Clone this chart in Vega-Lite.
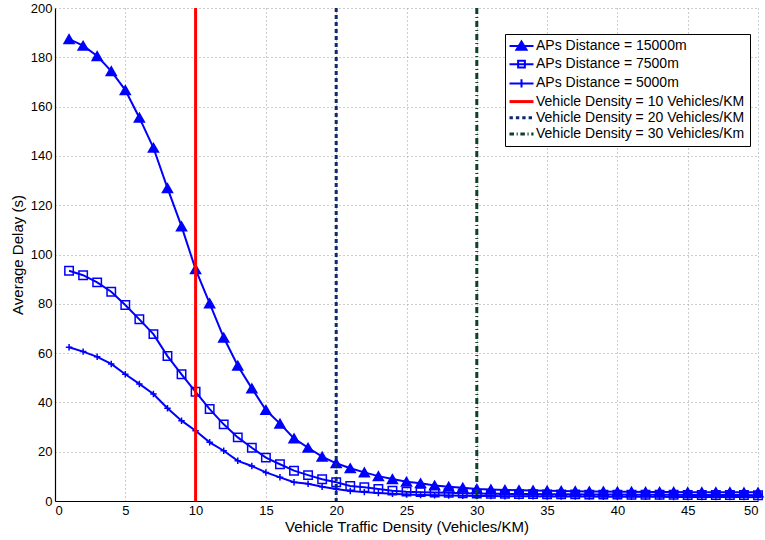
{
  "$schema": "https://vega.github.io/schema/vega-lite/v6.json",
  "autosize": {"type": "none"},
  "width": 703,
  "height": 493,
  "padding": {"left": 55, "top": 8, "right": 7, "bottom": 39},
  "background": "white",
  "config": {
    "font": "Liberation Sans",
    "view": {"stroke": null},
    "axis": {
      "domainColor": "black", "tickColor": "black", "labelColor": "black", "titleColor": "black",
      "labelFontSize": 13, "titleFontSize": 15, "titleFontWeight": "normal",
      "gridColor": "#9a9a9a", "gridDash": [1, 3], "gridWidth": 1, "ticks": false, "domainWidth": 1.2
    }
  },
  "datasets": {
    "curves": [
      {"s": "APs Distance = 15000m", "x": 1, "y": 187.4}, {"s": "APs Distance = 15000m", "x": 2, "y": 184.7}, {"s": "APs Distance = 15000m", "x": 3, "y": 180.5}, {"s": "APs Distance = 15000m", "x": 4, "y": 174.4}, {"s": "APs Distance = 15000m", "x": 5, "y": 166.7},
      {"s": "APs Distance = 15000m", "x": 6, "y": 155.5}, {"s": "APs Distance = 15000m", "x": 7, "y": 143.3}, {"s": "APs Distance = 15000m", "x": 8, "y": 126.9}, {"s": "APs Distance = 15000m", "x": 9, "y": 111.4}, {"s": "APs Distance = 15000m", "x": 10, "y": 94.0},
      {"s": "APs Distance = 15000m", "x": 11, "y": 80.2}, {"s": "APs Distance = 15000m", "x": 12, "y": 66.3}, {"s": "APs Distance = 15000m", "x": 13, "y": 54.9}, {"s": "APs Distance = 15000m", "x": 14, "y": 45.7}, {"s": "APs Distance = 15000m", "x": 15, "y": 36.9},
      {"s": "APs Distance = 15000m", "x": 16, "y": 31.4}, {"s": "APs Distance = 15000m", "x": 17, "y": 25.4}, {"s": "APs Distance = 15000m", "x": 18, "y": 21.6}, {"s": "APs Distance = 15000m", "x": 19, "y": 18.0}, {"s": "APs Distance = 15000m", "x": 20, "y": 15.3},
      {"s": "APs Distance = 15000m", "x": 21, "y": 13.3}, {"s": "APs Distance = 15000m", "x": 22, "y": 11.6}, {"s": "APs Distance = 15000m", "x": 23, "y": 10.1}, {"s": "APs Distance = 15000m", "x": 24, "y": 8.9}, {"s": "APs Distance = 15000m", "x": 25, "y": 7.8},
      {"s": "APs Distance = 15000m", "x": 26, "y": 7.2}, {"s": "APs Distance = 15000m", "x": 27, "y": 6.3}, {"s": "APs Distance = 15000m", "x": 28, "y": 5.8}, {"s": "APs Distance = 15000m", "x": 29, "y": 5.4}, {"s": "APs Distance = 15000m", "x": 30, "y": 4.9},
      {"s": "APs Distance = 15000m", "x": 31, "y": 4.7}, {"s": "APs Distance = 15000m", "x": 32, "y": 4.5}, {"s": "APs Distance = 15000m", "x": 33, "y": 4.4}, {"s": "APs Distance = 15000m", "x": 34, "y": 4.3}, {"s": "APs Distance = 15000m", "x": 35, "y": 4.2},
      {"s": "APs Distance = 15000m", "x": 36, "y": 4.1}, {"s": "APs Distance = 15000m", "x": 37, "y": 4.0}, {"s": "APs Distance = 15000m", "x": 38, "y": 3.9}, {"s": "APs Distance = 15000m", "x": 39, "y": 3.9}, {"s": "APs Distance = 15000m", "x": 40, "y": 3.8},
      {"s": "APs Distance = 15000m", "x": 41, "y": 3.8}, {"s": "APs Distance = 15000m", "x": 42, "y": 3.7}, {"s": "APs Distance = 15000m", "x": 43, "y": 3.7}, {"s": "APs Distance = 15000m", "x": 44, "y": 3.7}, {"s": "APs Distance = 15000m", "x": 45, "y": 3.6},
      {"s": "APs Distance = 15000m", "x": 46, "y": 3.6}, {"s": "APs Distance = 15000m", "x": 47, "y": 3.6}, {"s": "APs Distance = 15000m", "x": 48, "y": 3.6}, {"s": "APs Distance = 15000m", "x": 49, "y": 3.5}, {"s": "APs Distance = 15000m", "x": 50, "y": 3.5},
      {"s": "APs Distance = 7500m", "x": 1, "y": 93.4}, {"s": "APs Distance = 7500m", "x": 2, "y": 91.6}, {"s": "APs Distance = 7500m", "x": 3, "y": 88.7}, {"s": "APs Distance = 7500m", "x": 4, "y": 84.9}, {"s": "APs Distance = 7500m", "x": 5, "y": 79.5},
      {"s": "APs Distance = 7500m", "x": 6, "y": 73.7}, {"s": "APs Distance = 7500m", "x": 7, "y": 67.7}, {"s": "APs Distance = 7500m", "x": 8, "y": 58.8}, {"s": "APs Distance = 7500m", "x": 9, "y": 51.4}, {"s": "APs Distance = 7500m", "x": 10, "y": 44.3},
      {"s": "APs Distance = 7500m", "x": 11, "y": 37.3}, {"s": "APs Distance = 7500m", "x": 12, "y": 31.1}, {"s": "APs Distance = 7500m", "x": 13, "y": 25.8}, {"s": "APs Distance = 7500m", "x": 14, "y": 21.6}, {"s": "APs Distance = 7500m", "x": 15, "y": 17.6},
      {"s": "APs Distance = 7500m", "x": 16, "y": 14.9}, {"s": "APs Distance = 7500m", "x": 17, "y": 12.3}, {"s": "APs Distance = 7500m", "x": 18, "y": 10.5}, {"s": "APs Distance = 7500m", "x": 19, "y": 8.8}, {"s": "APs Distance = 7500m", "x": 20, "y": 7.6},
      {"s": "APs Distance = 7500m", "x": 21, "y": 6.1}, {"s": "APs Distance = 7500m", "x": 22, "y": 5.6}, {"s": "APs Distance = 7500m", "x": 23, "y": 4.9}, {"s": "APs Distance = 7500m", "x": 24, "y": 4.2}, {"s": "APs Distance = 7500m", "x": 25, "y": 3.8},
      {"s": "APs Distance = 7500m", "x": 26, "y": 3.6}, {"s": "APs Distance = 7500m", "x": 27, "y": 3.4}, {"s": "APs Distance = 7500m", "x": 28, "y": 3.3}, {"s": "APs Distance = 7500m", "x": 29, "y": 3.1}, {"s": "APs Distance = 7500m", "x": 30, "y": 3.0},
      {"s": "APs Distance = 7500m", "x": 31, "y": 2.9}, {"s": "APs Distance = 7500m", "x": 32, "y": 2.9}, {"s": "APs Distance = 7500m", "x": 33, "y": 2.8}, {"s": "APs Distance = 7500m", "x": 34, "y": 2.8}, {"s": "APs Distance = 7500m", "x": 35, "y": 2.7},
      {"s": "APs Distance = 7500m", "x": 36, "y": 2.7}, {"s": "APs Distance = 7500m", "x": 37, "y": 2.7}, {"s": "APs Distance = 7500m", "x": 38, "y": 2.6}, {"s": "APs Distance = 7500m", "x": 39, "y": 2.6}, {"s": "APs Distance = 7500m", "x": 40, "y": 2.6},
      {"s": "APs Distance = 7500m", "x": 41, "y": 2.5}, {"s": "APs Distance = 7500m", "x": 42, "y": 2.5}, {"s": "APs Distance = 7500m", "x": 43, "y": 2.5}, {"s": "APs Distance = 7500m", "x": 44, "y": 2.5}, {"s": "APs Distance = 7500m", "x": 45, "y": 2.4},
      {"s": "APs Distance = 7500m", "x": 46, "y": 2.4}, {"s": "APs Distance = 7500m", "x": 47, "y": 2.4}, {"s": "APs Distance = 7500m", "x": 48, "y": 2.4}, {"s": "APs Distance = 7500m", "x": 49, "y": 2.4}, {"s": "APs Distance = 7500m", "x": 50, "y": 2.3},
      {"s": "APs Distance = 5000m", "x": 1, "y": 62.4}, {"s": "APs Distance = 5000m", "x": 2, "y": 60.6}, {"s": "APs Distance = 5000m", "x": 3, "y": 58.5}, {"s": "APs Distance = 5000m", "x": 4, "y": 55.6}, {"s": "APs Distance = 5000m", "x": 5, "y": 51.4},
      {"s": "APs Distance = 5000m", "x": 6, "y": 47.5}, {"s": "APs Distance = 5000m", "x": 7, "y": 43.4}, {"s": "APs Distance = 5000m", "x": 8, "y": 37.6}, {"s": "APs Distance = 5000m", "x": 9, "y": 32.6}, {"s": "APs Distance = 5000m", "x": 10, "y": 28.5},
      {"s": "APs Distance = 5000m", "x": 11, "y": 23.8}, {"s": "APs Distance = 5000m", "x": 12, "y": 20.4}, {"s": "APs Distance = 5000m", "x": 13, "y": 16.3}, {"s": "APs Distance = 5000m", "x": 14, "y": 14.2}, {"s": "APs Distance = 5000m", "x": 15, "y": 11.6},
      {"s": "APs Distance = 5000m", "x": 16, "y": 9.6}, {"s": "APs Distance = 5000m", "x": 17, "y": 7.6}, {"s": "APs Distance = 5000m", "x": 18, "y": 7.0}, {"s": "APs Distance = 5000m", "x": 19, "y": 5.8}, {"s": "APs Distance = 5000m", "x": 20, "y": 4.9},
      {"s": "APs Distance = 5000m", "x": 21, "y": 4.1}, {"s": "APs Distance = 5000m", "x": 22, "y": 3.6}, {"s": "APs Distance = 5000m", "x": 23, "y": 3.2}, {"s": "APs Distance = 5000m", "x": 24, "y": 2.9}, {"s": "APs Distance = 5000m", "x": 25, "y": 2.6},
      {"s": "APs Distance = 5000m", "x": 26, "y": 2.4}, {"s": "APs Distance = 5000m", "x": 27, "y": 2.3}, {"s": "APs Distance = 5000m", "x": 28, "y": 2.2}, {"s": "APs Distance = 5000m", "x": 29, "y": 2.1}, {"s": "APs Distance = 5000m", "x": 30, "y": 2.0},
      {"s": "APs Distance = 5000m", "x": 31, "y": 2.0}, {"s": "APs Distance = 5000m", "x": 32, "y": 1.9}, {"s": "APs Distance = 5000m", "x": 33, "y": 1.9}, {"s": "APs Distance = 5000m", "x": 34, "y": 1.9}, {"s": "APs Distance = 5000m", "x": 35, "y": 1.8},
      {"s": "APs Distance = 5000m", "x": 36, "y": 1.8}, {"s": "APs Distance = 5000m", "x": 37, "y": 1.8}, {"s": "APs Distance = 5000m", "x": 38, "y": 1.8}, {"s": "APs Distance = 5000m", "x": 39, "y": 1.7}, {"s": "APs Distance = 5000m", "x": 40, "y": 1.7},
      {"s": "APs Distance = 5000m", "x": 41, "y": 1.7}, {"s": "APs Distance = 5000m", "x": 42, "y": 1.7}, {"s": "APs Distance = 5000m", "x": 43, "y": 1.7}, {"s": "APs Distance = 5000m", "x": 44, "y": 1.6}, {"s": "APs Distance = 5000m", "x": 45, "y": 1.6},
      {"s": "APs Distance = 5000m", "x": 46, "y": 1.6}, {"s": "APs Distance = 5000m", "x": 47, "y": 1.6}, {"s": "APs Distance = 5000m", "x": 48, "y": 1.6}, {"s": "APs Distance = 5000m", "x": 49, "y": 1.6}, {"s": "APs Distance = 5000m", "x": 50, "y": 1.5}
    ],
    "rules": [
      {"s": "Vehicle Density = 10 Vehicles/KM", "x": 10},
      {"s": "Vehicle Density = 20 Vehicles/KM", "x": 20},
      {"s": "Vehicle Density = 30 Vehicles/Km", "x": 30}
    ]
  },
  "encoding": {
    "x": {"field": "x", "type": "quantitative",
      "scale": {"domain": [0, 50], "nice": false, "zero": false},
      "axis": {"values": [0,5,10,15,20,25,30,35,40,45,50], "title": "Vehicle Traffic Density (Vehicles/KM)", "labelPadding": 3, "titlePadding": 2}},
    "color": {"field": "s", "type": "nominal",
      "scale": {"domain": ["APs Distance = 15000m", "APs Distance = 7500m", "APs Distance = 5000m", "Vehicle Density = 10 Vehicles/KM", "Vehicle Density = 20 Vehicles/KM", "Vehicle Density = 30 Vehicles/Km"],
        "range": ["#0000ff", "#0000ff", "#0000ff", "#ff0000", "#0d2a6e", "#0b4228"]},
      "legend": {
        "title": null, "orient": "none", "legendX": 450, "legendY": 26,
        "strokeColor": "black", "fillColor": "white", "padding": 5,
        "labelFontSize": 14, "labelColor": "black", "labelLimit": 400, "labelOffset": 12,
        "symbolSize": 225, "rowPadding": 2.2,
        "encode": {
          "symbols": {"update": {
            "shape": {"signal": "datum.label == 'APs Distance = 15000m' ? 'M-1,0H2.2M0.6,-0.6L1.27,0.5L-0.07,0.5Z' : datum.label == 'APs Distance = 7500m' ? 'M-1,0H2.2M0.15,-0.45H1.05V0.45H0.15Z' : datum.label == 'APs Distance = 5000m' ? 'M-1,0H2.2M0.6,-0.55V0.55' : datum.label == 'Vehicle Density = 20 Vehicles/KM' ? 'M-1,0H-0.55M-0.15,0H0.3M0.7,0H1.15M1.55,0H2.0' : datum.label == 'Vehicle Density = 30 Vehicles/Km' ? 'M-1,0H-0.4M-0.05,0H0.1M0.45,0H1.05M1.4,0H1.55M1.9,0H2.2' : 'M-1,0H2.2'"},
            "fill": {"signal": "datum.label == 'APs Distance = 15000m' ? '#0000ff' : 'transparent'"},
            "stroke": {"signal": "datum.label == 'Vehicle Density = 10 Vehicles/KM' ? '#ff0000' : datum.label == 'Vehicle Density = 20 Vehicles/KM' ? '#0d2a6e' : datum.label == 'Vehicle Density = 30 Vehicles/Km' ? '#0b4228' : '#0000ff'"},
            "strokeWidth": {"signal": "datum.label == 'Vehicle Density = 10 Vehicles/KM' || datum.label == 'Vehicle Density = 20 Vehicles/KM' || datum.label == 'Vehicle Density = 30 Vehicles/Km' ? 3 : 2"}
          }}
        }
      }}
  },
  "layer": [
    {
      "data": {"name": "curves"},
      "mark": {"type": "line", "strokeWidth": 2},
      "encoding": {
        "y": {"field": "y", "type": "quantitative",
          "scale": {"domain": [0, 200], "nice": false},
          "axis": {"values": [0,20,40,60,80,100,120,140,160,180,200], "title": "Average Delay (s)", "labelPadding": 3, "titlePadding": 5}}
      }
    },
    {
      "data": {"name": "curves"},
      "mark": {"type": "point", "filled": false, "strokeWidth": 1.5, "opacity": 1},
      "encoding": {
        "y": {"field": "y", "type": "quantitative"},
        "shape": {"field": "s", "type": "nominal", "legend": null,
          "scale": {"domain": ["APs Distance = 15000m", "APs Distance = 7500m", "APs Distance = 5000m"], "range": ["triangle-up", "square", "M-1,0H1M0,-1V1"]}},
        "size": {"field": "s", "type": "nominal", "legend": null,
          "scale": {"domain": ["APs Distance = 15000m", "APs Distance = 7500m", "APs Distance = 5000m"], "range": [100, 42, 64]}},
        "fill": {"field": "s", "type": "nominal", "legend": null,
          "scale": {"domain": ["APs Distance = 15000m", "APs Distance = 7500m", "APs Distance = 5000m"], "range": ["#0000ff", "transparent", "transparent"]}}
      }
    },
    {
      "data": {"name": "rules"},
      "mark": {"type": "rule"},
      "encoding": {
        "strokeWidth": {"field": "s", "type": "nominal", "legend": null,
          "scale": {"domain": ["Vehicle Density = 10 Vehicles/KM", "Vehicle Density = 20 Vehicles/KM", "Vehicle Density = 30 Vehicles/Km"], "range": [3, 3, 3]}},
        "strokeDash": {"field": "s", "type": "nominal", "legend": null,
          "scale": {"domain": ["Vehicle Density = 10 Vehicles/KM", "Vehicle Density = 20 Vehicles/KM", "Vehicle Density = 30 Vehicles/Km"], "range": [[1, 0], [4, 3], [6, 3, 1, 3]]}}
      }
    }
  ]
}
